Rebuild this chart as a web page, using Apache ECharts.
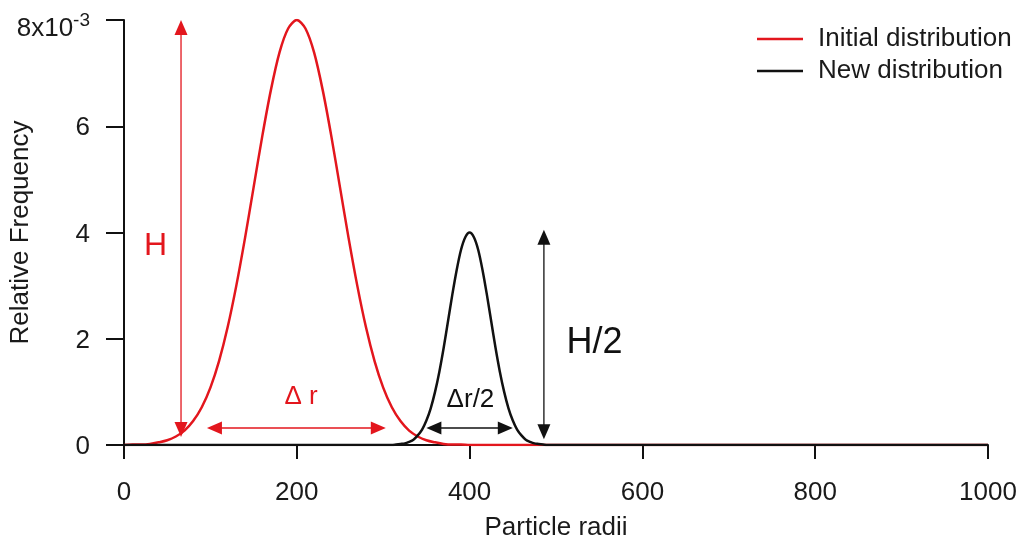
<!DOCTYPE html>
<html>
<head>
<meta charset="utf-8">
<style>
  html, body { margin: 0; padding: 0; background: #ffffff; }
  #chart { width: 1022px; height: 546px; }
</style>
<script src="https://cdn.jsdelivr.net/npm/echarts@6/dist/echarts.min.js"></script>
</head>
<body>
<div id="chart"></div>
<script>
// Particle radius axis (x) and relative frequency values in units of 1e-3 (y)
const initialRadii = [
  0, 10, 20, 30, 40, 50, 60, 70, 80, 90,
  100, 110, 120, 130, 140, 150, 160, 170, 180, 190,
  200, 210, 220, 230, 240, 250, 260, 270, 280, 290,
  300, 310, 320, 330, 340, 350, 360, 370, 380, 390,
  400, 450, 500, 1000
];
const initialFreq = [
  0.00, 0.01, 0.01, 0.02, 0.05, 0.09, 0.16, 0.27, 0.45, 0.71,
  1.08, 1.58, 2.22, 3.00, 3.89, 4.85, 5.81, 6.68, 7.39, 7.84,
  8.00, 7.84, 7.39, 6.68, 5.81, 4.85, 3.89, 3.00, 2.22, 1.58,
  1.08, 0.71, 0.45, 0.27, 0.16, 0.09, 0.05, 0.02, 0.01, 0.01,
  0.00, 0.00, 0.00, 0.00
];

const newRadii = [
  0, 100, 200, 300,
  305, 310, 315, 320, 325, 330, 335, 340, 345, 350,
  355, 360, 365, 370, 375, 380, 385, 390, 395, 400,
  405, 410, 415, 420, 425, 430, 435, 440, 445, 450,
  455, 460, 465, 470, 475, 480, 485, 490, 495, 500,
  600, 700, 800, 900, 1000
];
const newFreq = [
  0.00, 0.00, 0.00, 0.00,
  0.00, 0.00, 0.01, 0.02, 0.03, 0.06, 0.10, 0.18, 0.29, 0.46,
  0.69, 1.00, 1.38, 1.83, 2.33, 2.83, 3.29, 3.67, 3.91, 4.00,
  3.91, 3.67, 3.29, 2.83, 2.33, 1.83, 1.38, 1.00, 0.69, 0.46,
  0.29, 0.18, 0.10, 0.06, 0.03, 0.02, 0.01, 0.00, 0.00, 0.00,
  0.00, 0.00, 0.00, 0.00, 0.00
];

const xTicks = [0, 200, 400, 600, 800, 1000];
const yTicks = [0, 2, 4, 6, 8];

// Double-headed arrows: [x1, y1, x2, y2] in axis units (tip to tip)
const redArrows = [
  [66, 0.15, 66, 8.0],      // H
  [96, 0.32, 303, 0.32]     // Δ r
];
const blackArrows = [
  [350, 0.32, 450, 0.32],   // Δr/2
  [486, 0.11, 486, 4.05]    // H/2
];

// Annotation texts anchored at axis units
const redNotes = [
  { text: 'H', x: 36.5, y: 3.75, size: 32 },
  { text: 'Δ r', x: 205, y: 0.90, size: 26 }
];
const blackNotes = [
  { text: 'Δr/2', x: 401, y: 0.85, size: 26 },
  { text: 'H/2', x: 544.5, y: 1.92, size: 36 }
];

const RED = '#e3161d';
const BLACK = '#111111';
const TEXT = '#1a1a1a';
const FONT = '"Liberation Sans", Arial, sans-serif';

function pairs(xs, ys) {
  return xs.map((x, i) => [x, ys[i]]);
}

function arrowRenderer(color) {
  return function (params, api) {
    const p1 = api.coord([api.value(0), api.value(1)]);
    const p2 = api.coord([api.value(2), api.value(3)]);
    const dx = p2[0] - p1[0], dy = p2[1] - p1[1];
    const len = Math.sqrt(dx * dx + dy * dy) || 1;
    const ux = dx / len, uy = dy / len;
    const nx = -uy, ny = ux;
    const L = 15, W = 6.5;
    const head = (tip, dir) => {
      const bx = tip[0] - dir * ux * L, by = tip[1] - dir * uy * L;
      return {
        type: 'polygon',
        shape: { points: [tip, [bx + nx * W, by + ny * W], [bx - nx * W, by - ny * W]] },
        style: { fill: color }
      };
    };
    return {
      type: 'group',
      children: [
        {
          type: 'line',
          shape: { x1: p1[0] + ux * (L - 2), y1: p1[1] + uy * (L - 2), x2: p2[0] - ux * (L - 2), y2: p2[1] - uy * (L - 2) },
          style: { stroke: color, lineWidth: 1.3 }
        },
        head(p2, 1),
        head(p1, -1)
      ]
    };
  };
}

function noteRenderer(notes, color) {
  return function (params, api) {
    const n = notes[params.dataIndex];
    const p = api.coord([api.value(0), api.value(1)]);
    return {
      type: 'text',
      x: p[0],
      y: p[1],
      style: {
        text: n.text,
        fill: color,
        fontSize: n.size,
        fontFamily: FONT,
        align: 'center',
        verticalAlign: 'middle'
      }
    };
  };
}

const chart = echarts.init(document.getElementById('chart'), null, { renderer: 'canvas' });

chart.setOption({
  animation: false,
  backgroundColor: '#ffffff',
  textStyle: { fontFamily: FONT },
  grid: { left: 124, right: 34, top: 20, bottom: 101, containLabel: false, outerBoundsMode: 'none' },
  legend: {
    orient: 'vertical',
    left: 757,
    top: 26,
    padding: 0,
    icon: 'rect',
    itemWidth: 46,
    itemHeight: 2.5,
    itemGap: 6,
    data: ['Initial distribution', 'New distribution'],
    textStyle: { fontSize: 26, color: TEXT, fontFamily: FONT, padding: [0, 0, 0, 10] }
  },
  xAxis: {
    type: 'value',
    min: xTicks[0],
    max: xTicks[xTicks.length - 1],
    interval: xTicks[1] - xTicks[0],
    offset: 3,
    name: 'Particle radii',
    nameLocation: 'middle',
    nameGap: 67,
    nameMoveOverlap: false,
    nameTextStyle: { fontSize: 26, color: TEXT, fontFamily: FONT },
    axisLine: { show: true, lineStyle: { color: BLACK, width: 2 } },
    axisTick: { show: true, inside: false, length: 14, lineStyle: { color: BLACK, width: 2 } },
    axisLabel: {
      fontSize: 26, color: TEXT, margin: 32, fontFamily: FONT,
      formatter: function (v) { return String(v); }
    },
    splitLine: { show: false }
  },
  yAxis: {
    type: 'value',
    min: yTicks[0],
    max: yTicks[yTicks.length - 1],
    interval: yTicks[1] - yTicks[0],
    offset: 3,
    name: 'Relative Frequency',
    nameLocation: 'middle',
    nameGap: 87,
    nameMoveOverlap: false,
    nameTextStyle: { fontSize: 26, color: TEXT, fontFamily: FONT },
    axisLine: { show: true, lineStyle: { color: BLACK, width: 2 } },
    axisTick: { show: true, inside: false, length: 18, lineStyle: { color: BLACK, width: 2 } },
    axisLabel: {
      margin: 31,
      color: TEXT,
      fontFamily: FONT,
      formatter: function (v) {
        return v === yTicks[yTicks.length - 1] ? '{m|' + v + 'x10}{s|-3}' : '{n|' + v + '}';
      },
      rich: {
        m: { fontSize: 26, lineHeight: 26, padding: [18, 0, 0, 0], fontFamily: FONT, color: TEXT },
        s: { fontSize: 19, lineHeight: 19, verticalAlign: 'top', padding: [4, 0, 0, 0], fontFamily: FONT, color: TEXT },
        n: { fontSize: 26, lineHeight: 26, padding: [4, 0, 0, 0], fontFamily: FONT, color: TEXT }
      }
    },
    splitLine: { show: false }
  },
  series: [
    {
      name: 'Initial distribution',
      type: 'line',
      data: pairs(initialRadii, initialFreq),
      showSymbol: false,
      symbol: 'none',
      smooth: 0.3,
      lineStyle: { color: RED, width: 2.5 },
      itemStyle: { color: RED },
      z: 3
    },
    {
      name: 'New distribution',
      type: 'line',
      data: pairs(newRadii, newFreq),
      showSymbol: false,
      symbol: 'none',
      smooth: 0.3,
      lineStyle: { color: BLACK, width: 2.5 },
      itemStyle: { color: BLACK },
      z: 4
    },
    {
      type: 'custom',
      data: redArrows,
      renderItem: arrowRenderer(RED),
      clip: false,
      silent: true,
      z: 5
    },
    {
      type: 'custom',
      data: blackArrows,
      renderItem: arrowRenderer(BLACK),
      clip: false,
      silent: true,
      z: 5
    },
    {
      type: 'custom',
      data: redNotes.map(n => [n.x, n.y]),
      renderItem: noteRenderer(redNotes, RED),
      clip: false,
      silent: true,
      z: 6
    },
    {
      type: 'custom',
      data: blackNotes.map(n => [n.x, n.y]),
      renderItem: noteRenderer(blackNotes, BLACK),
      clip: false,
      silent: true,
      z: 6
    }
  ]
});
</script>
</body>
</html>
